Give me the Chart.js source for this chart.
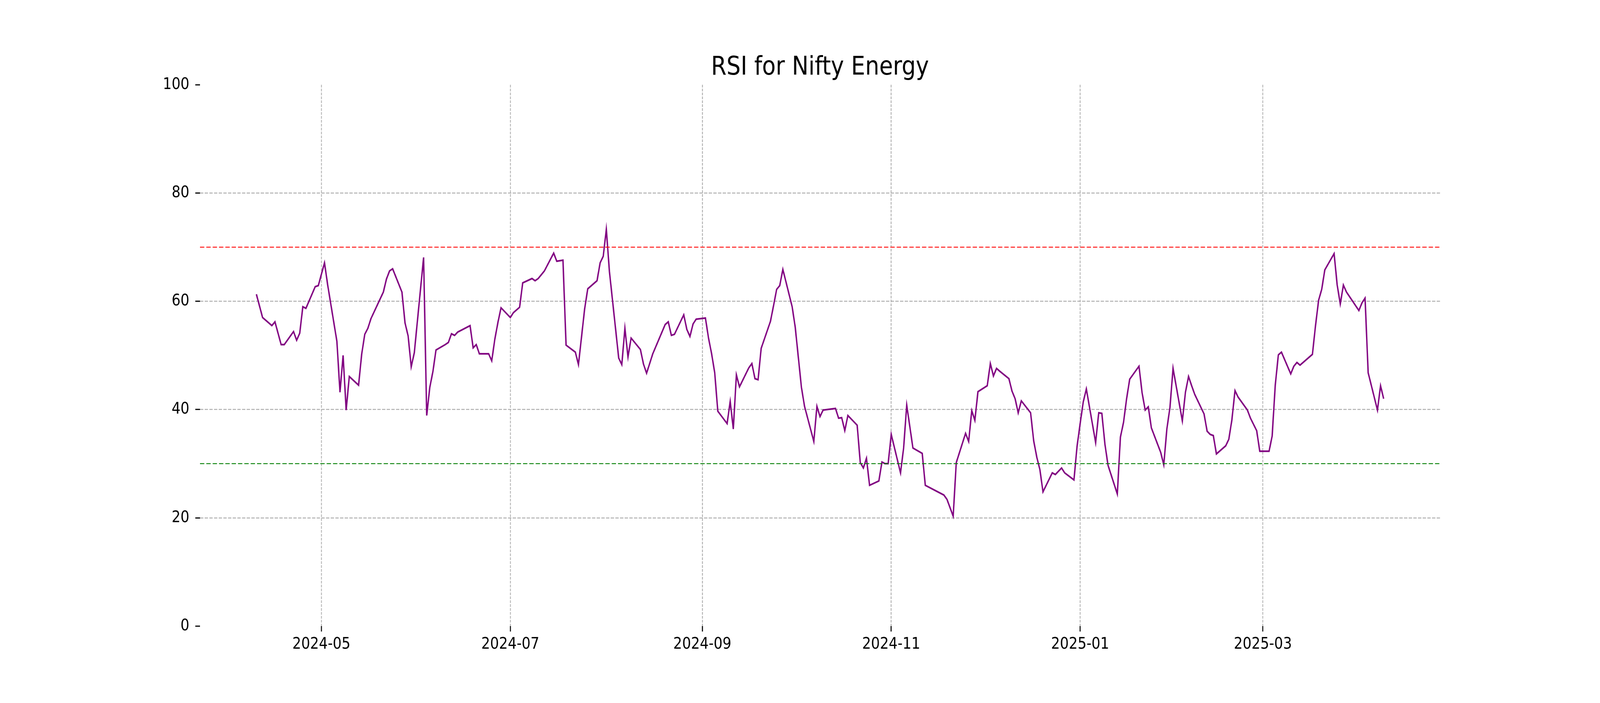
<!DOCTYPE html>
<html>
<head>
<meta charset="utf-8">
<script src="https://cdn.jsdelivr.net/npm/chart.js@4.4.1/dist/chart.umd.min.js"></script>
<style>
  html, body { margin: 0; padding: 0; background: #ffffff; overflow: hidden; }
  canvas { display: block; }
</style>
</head>
<body>
<canvas id="c" width="4800" height="1800"></canvas>
<script>
// ---- data ----
const dates = [
  '2024-04-10','2024-04-12','2024-04-15','2024-04-16','2024-04-18','2024-04-19','2024-04-22','2024-04-23','2024-04-24','2024-04-25','2024-04-26','2024-04-29','2024-04-30',
  '2024-05-02','2024-05-03','2024-05-06','2024-05-07','2024-05-08','2024-05-09','2024-05-10','2024-05-13','2024-05-14','2024-05-15','2024-05-16','2024-05-17','2024-05-21','2024-05-22','2024-05-23','2024-05-24','2024-05-27','2024-05-28','2024-05-29','2024-05-30','2024-05-31',
  '2024-06-03','2024-06-04','2024-06-05','2024-06-06','2024-06-07','2024-06-10','2024-06-11','2024-06-12','2024-06-13','2024-06-14','2024-06-18','2024-06-19','2024-06-20','2024-06-21','2024-06-24','2024-06-25','2024-06-26','2024-06-27','2024-06-28',
  '2024-07-01','2024-07-02','2024-07-03','2024-07-04','2024-07-05','2024-07-08','2024-07-09','2024-07-10','2024-07-11','2024-07-12','2024-07-15','2024-07-16','2024-07-18','2024-07-19','2024-07-22','2024-07-23','2024-07-25','2024-07-26','2024-07-29','2024-07-30','2024-07-31',
  '2024-08-01','2024-08-02','2024-08-05','2024-08-06','2024-08-07','2024-08-08','2024-08-09','2024-08-12','2024-08-13','2024-08-14','2024-08-16','2024-08-20','2024-08-21','2024-08-22','2024-08-23','2024-08-26','2024-08-27','2024-08-28','2024-08-29','2024-08-30',
  '2024-09-02','2024-09-03','2024-09-04','2024-09-05','2024-09-06','2024-09-09','2024-09-10','2024-09-11','2024-09-12','2024-09-13','2024-09-16','2024-09-17','2024-09-18','2024-09-19','2024-09-20','2024-09-23','2024-09-24','2024-09-25','2024-09-26','2024-09-27','2024-09-30',
  '2024-10-01','2024-10-03','2024-10-04','2024-10-07','2024-10-08','2024-10-09','2024-10-10','2024-10-14','2024-10-15','2024-10-16','2024-10-17','2024-10-18','2024-10-21','2024-10-22','2024-10-23','2024-10-24','2024-10-25','2024-10-28','2024-10-29','2024-10-30','2024-10-31',
  '2024-11-01','2024-11-04','2024-11-05','2024-11-06','2024-11-08','2024-11-11','2024-11-12','2024-11-18','2024-11-19','2024-11-21','2024-11-22','2024-11-25','2024-11-26','2024-11-27','2024-11-28','2024-11-29',
  '2024-12-02','2024-12-03','2024-12-04','2024-12-05','2024-12-06','2024-12-09','2024-12-10','2024-12-11','2024-12-12','2024-12-13','2024-12-16','2024-12-17','2024-12-18','2024-12-19','2024-12-20','2024-12-23','2024-12-24','2024-12-26','2024-12-27','2024-12-30','2024-12-31',
  '2025-01-01','2025-01-02','2025-01-03','2025-01-06','2025-01-07','2025-01-08','2025-01-09','2025-01-10','2025-01-13','2025-01-14','2025-01-15','2025-01-16','2025-01-17','2025-01-20','2025-01-21','2025-01-22','2025-01-23','2025-01-24','2025-01-27','2025-01-28','2025-01-29','2025-01-30','2025-01-31',
  '2025-02-03','2025-02-04','2025-02-05','2025-02-06','2025-02-07','2025-02-10','2025-02-11','2025-02-12','2025-02-13','2025-02-14','2025-02-17','2025-02-18','2025-02-19','2025-02-20','2025-02-21','2025-02-24','2025-02-25','2025-02-27','2025-02-28',
  '2025-03-03','2025-03-04','2025-03-05','2025-03-06','2025-03-07','2025-03-10','2025-03-11','2025-03-12','2025-03-13','2025-03-17','2025-03-18','2025-03-19','2025-03-20','2025-03-21','2025-03-24','2025-03-25','2025-03-26','2025-03-27','2025-03-28',
  '2025-04-01','2025-04-02','2025-04-03','2025-04-04','2025-04-07','2025-04-08','2025-04-09'
];
const rsiValues = [
  61.3,57.0,55.5,56.2,52.0,52.0,54.4,52.8,54.1,59.0,58.7,62.7,62.9,
  67.1,63.1,52.6,43.2,50.0,39.9,46.1,44.5,50.2,53.9,55.0,56.8,61.7,64.1,65.6,66.0,61.7,56.0,53.6,47.9,50.5,
  68.1,38.9,44.1,47.0,51.0,52.0,52.4,54.0,53.7,54.3,55.5,51.4,52.0,50.3,50.3,49.0,53.0,56.1,58.8,
  57.0,57.9,58.4,58.9,63.4,64.2,63.8,64.2,64.9,65.6,68.9,67.4,67.6,51.9,50.6,48.3,58.6,62.3,63.8,67.1,68.3,
  73.3,65.5,49.5,48.3,55.0,49.7,53.2,51.1,48.4,46.7,50.3,55.7,56.2,53.7,53.9,57.5,54.8,53.5,55.8,56.7,
  56.9,53.2,50.3,46.8,39.7,37.4,41.5,36.4,46.4,44.2,47.7,48.5,45.7,45.5,51.3,56.3,59.2,62.2,62.9,65.9,59.0,
  55.2,44.1,40.6,34.1,40.6,38.7,39.9,40.2,38.4,38.5,36.1,38.9,37.1,30.2,29.2,31.0,26.0,26.8,30.3,30.0,30.0,
  35.4,28.3,32.9,40.8,32.9,31.9,26.0,24.2,23.4,20.3,30.2,35.6,34.1,39.8,38.0,43.3,
  44.4,48.5,46.2,47.6,47.1,45.7,43.4,42.0,39.4,41.6,39.4,34.2,31.2,28.9,24.8,28.3,28.0,29.2,28.3,27.0,33.2,
  37.4,41.4,43.8,33.9,39.4,39.3,33.6,29.7,24.4,34.9,37.6,42.0,45.6,48.0,43.1,39.9,40.5,36.6,32.1,29.8,36.4,40.4,47.6,
  37.9,43.2,46.1,44.4,42.8,39.2,36.0,35.4,35.2,31.8,33.3,34.5,38.1,43.5,42.3,39.9,38.4,36.1,32.3,
  32.3,35.1,44.5,50.1,50.6,46.6,48.0,48.7,48.2,50.2,55.5,60.2,62.2,65.8,68.8,63.0,59.5,63.0,61.7,
  58.3,59.7,60.6,46.8,39.9,44.4,42.0
];
const overboughtLevel = 70;
const oversoldLevel = 30;
const yTickValues = [0, 20, 40, 60, 80, 100];
const xTickMonths = ['2024-05', '2024-07', '2024-09', '2024-11', '2025-01', '2025-03'];
const chartTitle = 'RSI for Nifty Energy';

// ---- sizing: drawn on a 4800x1800 canvas, displayed to fill the window ----
const canvas = document.getElementById('c');
canvas.style.width = window.innerWidth + 'px';
canvas.style.height = window.innerHeight + 'px';

// ---- build ----
const toMs = s => Date.parse(s + 'T00:00:00Z');
const pts = dates.map((d, i) => ({ x: toMs(d), y: rsiValues[i] }));
const x0 = pts[0].x, x1 = pts[pts.length - 1].x;
const span = x1 - x0;
const xMin = x0 - 0.05 * span;
const xMax = x1 + 0.05 * span;

const FONT = "'DejaVu Sans', 'Liberation Sans', sans-serif";
const TICK_PX = 41.7;
const GRID = '#b0b0b0';

const centeredTitle = {
  id: 'centeredTitle',
  afterDraw(chart) {
    const a = chart.chartArea, ctx = chart.ctx;
    ctx.save();
    ctx.font = 'normal 66.7px ' + FONT;
    ctx.fillStyle = '#000000';
    ctx.textAlign = 'center';
    ctx.textBaseline = 'alphabetic';
    ctx.fillText(chartTitle, (a.left + a.right) / 2, 191);
    ctx.restore();
  }
};

new Chart(canvas, {
  type: 'line',
  data: {
    datasets: [
      { label: 'RSI', data: pts, borderColor: '#800080', borderWidth: 4.2, pointRadius: 0, tension: 0, fill: false, order: 2 },
      { label: 'Overbought', data: [{ x: xMin, y: overboughtLevel }, { x: xMax, y: overboughtLevel }], borderColor: '#ff0000', borderWidth: 2.2, borderDash: [13, 6], pointRadius: 0, fill: false, order: 1 },
      { label: 'Oversold', data: [{ x: xMin, y: oversoldLevel }, { x: xMax, y: oversoldLevel }], borderColor: '#008000', borderWidth: 2.2, borderDash: [13, 6], pointRadius: 0, fill: false, order: 1 }
    ]
  },
  plugins: [centeredTitle],
  options: {
    responsive: false,
    animation: false,
    devicePixelRatio: 1,
    layout: { padding: { left: 0, right: 480, top: 217, bottom: 0 } },
    plugins: {
      legend: { display: false },
      tooltip: { enabled: false },
      title: { display: false }
    },
    scales: {
      x: {
        type: 'linear',
        min: xMin,
        max: xMax,
        afterBuildTicks: (scale) => { scale.ticks = xTickMonths.map(m => ({ value: toMs(m + '-01') })); },
        afterFit: (scale) => { scale.height = 197; },
        ticks: {
          autoSkip: false,
          maxRotation: 0,
          color: '#000000',
          padding: 8,
          font: { family: FONT, size: TICK_PX },
          callback: (v) => { const d = new Date(v); return d.getUTCFullYear() + '-' + String(d.getUTCMonth() + 1).padStart(2, '0'); }
        },
        grid: { color: GRID, lineWidth: 2.5, tickColor: '#000000', tickWidth: 3, tickLength: 14, tickBorderDash: [] },
        border: { display: false, dash: [7, 3] }
      },
      y: {
        min: 0,
        max: 100,
        afterBuildTicks: (scale) => { scale.ticks = yTickValues.map(v => ({ value: v })); },
        afterFit: (scale) => { scale.width = 600; },
        ticks: { color: '#000000', padding: 18, font: { family: FONT, size: TICK_PX } },
        grid: {
          color: (ctx) => (ctx.tick && (ctx.tick.value === 0 || ctx.tick.value === 100)) ? 'rgba(0,0,0,0)' : GRID,
          lineWidth: 2.5, tickColor: '#000000', tickWidth: 3, tickLength: 14, tickBorderDash: []
        },
        border: { display: false, dash: [10, 4] }
      }
    }
  }
});
</script>
</body>
</html>
